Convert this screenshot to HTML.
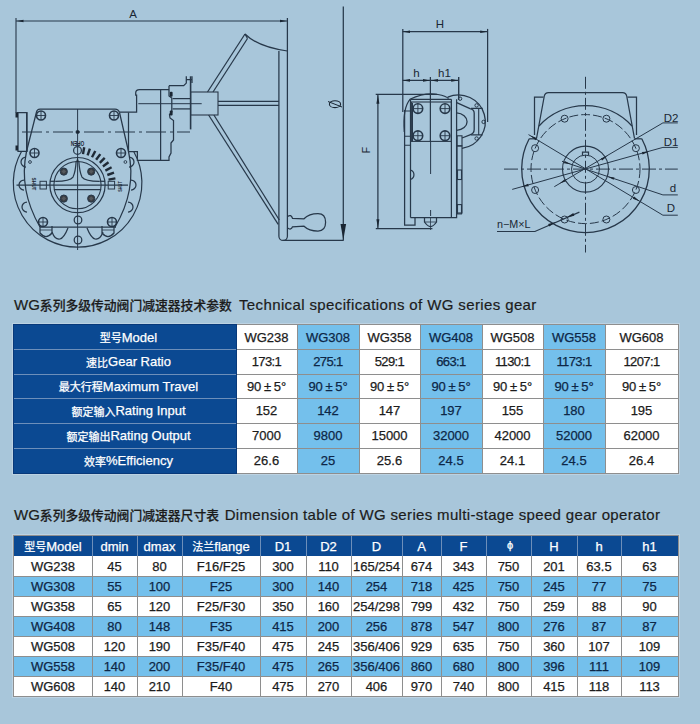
<!DOCTYPE html>
<html><head><meta charset="utf-8"><title>WG</title>
<style>
html,body{margin:0;padding:0;}
body{width:700px;height:724px;background:#a8c6da;position:relative;overflow:hidden;font-family:"Liberation Sans","Noto Sans CJK SC",sans-serif;}
.c{font-family:"Noto Sans CJK SC","WenQuanYi Zen Hei",sans-serif;}
.title{position:absolute;left:14px;white-space:nowrap;color:#1c1c1c;font-size:15px;line-height:18px;-webkit-text-stroke:0.2px currentColor;}
.title .c{font-size:12.8px;font-weight:500;}
.title .e{letter-spacing:0.38px;}
.cell{position:absolute;box-sizing:border-box;display:flex;align-items:center;justify-content:center;font-size:13px;white-space:nowrap;color:#1c1c1c;-webkit-text-stroke:0.25px currentColor;}
.cell .c{font-size:11px;}
.hd{background:#0b4992;color:#fff;}
.t1h{padding-left:7px;}
.rt{letter-spacing:-0.6px;}
.wh{background:#fff;}
.lb{background:#74c0ec;color:#0d2747;}
.hl{position:absolute;height:1px;background:#8e8e8e;}
.hl2{position:absolute;height:1px;background:#6d8fba;}
.vl{position:absolute;width:1px;background:#8e8e8e;}
.vl2{position:absolute;width:1px;background:#6d8fba;}
.frame{position:absolute;border:1px solid #8e8e8e;box-shadow:0 0 0 1px #bcd2e2;}
.dframe{position:absolute;border:1px solid #08397a;}
svg{position:absolute;left:0;top:0;}
</style></head><body>
<svg width="700" height="285" viewBox="0 0 700 285"><line x1="16" y1="21" x2="287.4" y2="21" stroke="#27384a" stroke-width="1.1"/><polygon points="16.5,21.0 23.5,19.7 23.5,22.3" fill="#1a2633"/><polygon points="287.0,21.0 280.0,22.3 280.0,19.7" fill="#1a2633"/><line x1="16" y1="18" x2="16" y2="113" stroke="#27384a" stroke-width="1.1"/><text x="133" y="17.5" font-size="11.5" text-anchor="middle" fill="#1a2633" font-family="Liberation Sans, sans-serif">A</text><path d="M16.5,112.6 H27 V151.4 H18 V112.6" stroke="#27384a" stroke-width="1.25" fill="none"/><line x1="26.6" y1="112.6" x2="26.6" y2="151.4" stroke="#27384a" stroke-width="1.25"/><rect x="15.5" y="112.5" width="2.5" height="5" fill="#1a2633"/><rect x="15.5" y="145.5" width="2.5" height="5" fill="#1a2633"/><path d="M36.5,112 Q37,109 40,109 H115 Q118.5,109 119.5,112.5" stroke="#27384a" stroke-width="1.25" fill="none"/><path d="M36.5,112 L26.5,151.5 Q18.5,190 40,227" stroke="#27384a" stroke-width="1.25" fill="none"/><path d="M119.5,112.5 L128.5,151.5 Q137,190 115,227" stroke="#27384a" stroke-width="1.25" fill="none"/><path d="M21.5,151.5 A64.3,64.3 0 1 0 133.7,151.5" stroke="#27384a" stroke-width="1.2" fill="none"/><line x1="128.5" y1="112.5" x2="128.5" y2="151.5" stroke="#27384a" stroke-width="1.25"/><circle cx="41" cy="115.5" r="4.5" stroke="#27384a" stroke-width="1.6" fill="none"/><line x1="36.5" y1="115.5" x2="45.5" y2="115.5" stroke="#27384a" stroke-width="0.9"/><line x1="41" y1="111.0" x2="41" y2="120.0" stroke="#27384a" stroke-width="0.9"/><circle cx="114" cy="115.5" r="4.5" stroke="#27384a" stroke-width="1.6" fill="none"/><line x1="109.5" y1="115.5" x2="118.5" y2="115.5" stroke="#27384a" stroke-width="0.9"/><line x1="114" y1="111.0" x2="114" y2="120.0" stroke="#27384a" stroke-width="0.9"/><circle cx="34.5" cy="153" r="4.5" stroke="#27384a" stroke-width="1.6" fill="none"/><line x1="30.0" y1="153" x2="39.0" y2="153" stroke="#27384a" stroke-width="0.9"/><line x1="34.5" y1="148.5" x2="34.5" y2="157.5" stroke="#27384a" stroke-width="0.9"/><circle cx="121" cy="153" r="4.5" stroke="#27384a" stroke-width="1.6" fill="none"/><line x1="116.5" y1="153" x2="125.5" y2="153" stroke="#27384a" stroke-width="0.9"/><line x1="121" y1="148.5" x2="121" y2="157.5" stroke="#27384a" stroke-width="0.9"/><circle cx="43" cy="222" r="4.5" stroke="#27384a" stroke-width="1.6" fill="none"/><line x1="38.5" y1="222" x2="47.5" y2="222" stroke="#27384a" stroke-width="0.9"/><line x1="43" y1="217.5" x2="43" y2="226.5" stroke="#27384a" stroke-width="0.9"/><circle cx="112" cy="222" r="4.5" stroke="#27384a" stroke-width="1.6" fill="none"/><line x1="107.5" y1="222" x2="116.5" y2="222" stroke="#27384a" stroke-width="0.9"/><line x1="112" y1="217.5" x2="112" y2="226.5" stroke="#27384a" stroke-width="0.9"/><circle cx="30" cy="162" r="1.4" stroke="#27384a" stroke-width="0.9" fill="none"/><circle cx="125.4" cy="162" r="1.4" stroke="#27384a" stroke-width="0.9" fill="none"/><path d="M26,157 A5,5 0 0 0 26,167" stroke="#27384a" stroke-width="1.25" fill="none"/><path d="M24,180 A5,5 0 0 0 24,190" stroke="#27384a" stroke-width="1.25" fill="none"/><path d="M27,202 A5,5 0 0 0 27,212" stroke="#27384a" stroke-width="1.25" fill="none"/><path d="M129,157 A5,5 0 0 1 129,167" stroke="#27384a" stroke-width="1.25" fill="none"/><path d="M131,180 A5,5 0 0 1 131,190" stroke="#27384a" stroke-width="1.25" fill="none"/><path d="M128,202 A5,5 0 0 1 128,212" stroke="#27384a" stroke-width="1.25" fill="none"/><line x1="77.6" y1="109" x2="77.6" y2="250" stroke="#27384a" stroke-width="1.0"/><line x1="22" y1="132" x2="190" y2="132" stroke="#27384a" stroke-width="1.2" stroke-dasharray="20,4,3,4"/><circle cx="77.6" cy="132" r="1.8" stroke="#27384a" stroke-width="0.5" fill="#1a2633"/><text x="77.5" y="142.4" font-size="6.6" text-anchor="middle" fill="#1a2633" font-family="Liberation Sans, sans-serif" transform="rotate(180 77.5 142.4)" dominant-baseline="middle" font-weight="bold" textLength="13.5" lengthAdjust="spacingAndGlyphs">OPEN</text><circle cx="77.5" cy="150.4" r="3.9" stroke="#27384a" stroke-width="1.25" fill="none"/><line x1="83.0" y1="154.1" x2="84.2" y2="147.2" stroke="#1f2a36" stroke-width="2.4"/><line x1="87.6" y1="155.3" x2="89.9" y2="148.6" stroke="#1f2a36" stroke-width="2.4"/><line x1="92.0" y1="157.2" x2="95.3" y2="151.0" stroke="#1f2a36" stroke-width="2.4"/><line x1="96.1" y1="159.7" x2="100.3" y2="154.1" stroke="#1f2a36" stroke-width="2.4"/><line x1="99.8" y1="162.8" x2="104.7" y2="157.9" stroke="#1f2a36" stroke-width="2.4"/><line x1="102.9" y1="166.5" x2="108.5" y2="162.3" stroke="#1f2a36" stroke-width="2.4"/><line x1="105.4" y1="170.6" x2="111.6" y2="167.3" stroke="#1f2a36" stroke-width="2.4"/><line x1="107.3" y1="175.0" x2="114.0" y2="172.7" stroke="#1f2a36" stroke-width="2.4"/><line x1="108.5" y1="179.6" x2="115.4" y2="178.4" stroke="#1f2a36" stroke-width="2.4"/><circle cx="77.5" cy="185.1" r="27.6" stroke="#27384a" stroke-width="1.2" fill="none"/><circle cx="77.5" cy="185.1" r="23.6" stroke="#27384a" stroke-width="1.1" fill="none"/><circle cx="63.8" cy="171.6" r="3.6" stroke="#27384a" stroke-width="1.0" fill="#3a3d42"/><rect x="62.199999999999996" y="170.0" width="3.2" height="3.2" fill="#55595e" transform="rotate(45 63.8 171.6)"/><circle cx="91.2" cy="171.6" r="3.6" stroke="#27384a" stroke-width="1.0" fill="#3a3d42"/><rect x="89.60000000000001" y="170.0" width="3.2" height="3.2" fill="#55595e" transform="rotate(45 91.2 171.6)"/><circle cx="63.8" cy="198.6" r="3.6" stroke="#27384a" stroke-width="1.0" fill="#3a3d42"/><rect x="62.199999999999996" y="197.0" width="3.2" height="3.2" fill="#55595e" transform="rotate(45 63.8 198.6)"/><circle cx="91.2" cy="198.6" r="3.6" stroke="#27384a" stroke-width="1.0" fill="#3a3d42"/><rect x="89.60000000000001" y="197.0" width="3.2" height="3.2" fill="#55595e" transform="rotate(45 91.2 198.6)"/><polygon points="77.5,157.5 76,162 79,162" fill="#1f2a36"/><path d="M76.2,161 Q75.5,172 73,177 Q70,181 55.4,181.3" stroke="#27384a" stroke-width="1.25" fill="none"/><path d="M78.8,161 Q79.5,172 82,177 Q85,181 99.6,181.3" stroke="#27384a" stroke-width="1.25" fill="none"/><line x1="49.9" y1="181.3" x2="55.4" y2="181.3" stroke="#27384a" stroke-width="1.25"/><line x1="99.6" y1="181.3" x2="105.1" y2="181.3" stroke="#27384a" stroke-width="1.25"/><line x1="53.9" y1="189.6" x2="101.1" y2="189.6" stroke="#27384a" stroke-width="1.25"/><line x1="16.5" y1="185.1" x2="128" y2="185.1" stroke="#27384a" stroke-width="1.1"/><rect x="40" y="181.3" width="6.4" height="7.7" fill="none" stroke="#2a3a4b" stroke-width="1"/><rect x="108.2" y="181.3" width="6.4" height="7.7" fill="none" stroke="#2a3a4b" stroke-width="1"/><text x="33.6" y="184" font-size="6.2" text-anchor="middle" fill="#1a2633" font-family="Liberation Sans, sans-serif" transform="rotate(90 33.6 184)" dominant-baseline="middle" font-weight="bold" textLength="13" lengthAdjust="spacingAndGlyphs">SHUT</text><text x="120.4" y="186.5" font-size="6.2" text-anchor="middle" fill="#1a2633" font-family="Liberation Sans, sans-serif" transform="rotate(-90 120.4 186.5)" dominant-baseline="middle" font-weight="bold" textLength="10.5" lengthAdjust="spacingAndGlyphs">SHUT</text><circle cx="78" cy="220" r="3.8" stroke="#27384a" stroke-width="1.25" fill="none"/><circle cx="78" cy="240" r="3.8" stroke="#27384a" stroke-width="1.25" fill="none"/><line x1="40" y1="227" x2="116" y2="227" stroke="#27384a" stroke-width="1.25"/><path d="M40,226 V233 Q46,240 52,233 V226" stroke="#27384a" stroke-width="1.25" fill="none"/><line x1="40" y1="230" x2="52" y2="230" stroke="#27384a" stroke-width="0.8"/><path d="M102,226 V233 Q108,240 114,233 V226" stroke="#27384a" stroke-width="1.25" fill="none"/><line x1="102" y1="230" x2="114" y2="230" stroke="#27384a" stroke-width="0.8"/><path d="M52,232 Q55,240 60,239 Q64,238 68,228" stroke="#27384a" stroke-width="1.25" fill="none"/><path d="M103,232 Q100,240 95,239 Q91,238 87,228" stroke="#27384a" stroke-width="1.25" fill="none"/><path d="M119.4,112.2 H136.6 V95 H135.7 V93 Q135.7,89.5 139.5,89.5 H169" stroke="#27384a" stroke-width="1.25" fill="none"/><path d="M169,85.7 V89.5 V96 L171.8,98 V112 L169.5,114.5 L170,118 L173.5,120.5 V140 L171,143 V153 L169,157 V160.3 H137.4 V151.7 H128.5" stroke="#27384a" stroke-width="1.25" fill="none"/><line x1="160.6" y1="89.5" x2="160.6" y2="160.3" stroke="#27384a" stroke-width="1.25"/><line x1="138.3" y1="103.7" x2="201.7" y2="103.7" stroke="#27384a" stroke-width="1.0"/><rect x="169.8" y="91.7" width="2.8" height="5" rx="1" fill="#1a2633"/><rect x="169.8" y="110.6" width="2.8" height="5" rx="1" fill="#1a2633"/><path d="M169,85.7 H183.7 L186.3,83.1 V76.3 M186.3,79.7 H192 M192,76.3 V83.1" stroke="#27384a" stroke-width="1.25" fill="none"/><line x1="190.6" y1="76.3" x2="190.6" y2="129.4" stroke="#27384a" stroke-width="1.6"/><line x1="172.6" y1="98.6" x2="190.6" y2="98.6" stroke="#27384a" stroke-width="1.25"/><line x1="172.6" y1="108.9" x2="190.6" y2="108.9" stroke="#27384a" stroke-width="1.25"/><rect x="190.6" y="92" width="27.4" height="23" fill="none" stroke="#2a3a4b" stroke-width="1.1"/><line x1="218" y1="101.4" x2="278.9" y2="101.4" stroke="#27384a" stroke-width="1.25"/><line x1="218" y1="105.3" x2="278.9" y2="105.3" stroke="#27384a" stroke-width="1.25"/><line x1="207.5" y1="92" x2="245" y2="34" stroke="#27384a" stroke-width="1.25"/><line x1="213" y1="92" x2="247.5" y2="38.5" stroke="#27384a" stroke-width="1.25"/><path d="M245,34 Q258,47 287.4,51" stroke="#27384a" stroke-width="1.25" fill="none"/><line x1="245" y1="34" x2="247.5" y2="38.5" stroke="#27384a" stroke-width="1.25"/><line x1="208.6" y1="115" x2="278.2" y2="224.3" stroke="#27384a" stroke-width="1.25"/><line x1="213.9" y1="115" x2="279.3" y2="220" stroke="#27384a" stroke-width="1.25"/><path d="M278.9,51 V236.2 A4.25,4.25 0 0 0 287.4,236.2 V18" stroke="#27384a" stroke-width="1.25" fill="none"/><path d="M287.6,216.5 Q291,214 292.5,218.3 L304,218.8 Q309,213.6 318,213.6 Q325.6,213.6 325.6,222.3 Q325.6,231 318,231 Q309,231 304,226.2 L292.5,226.8 Q291,230.5 287.6,228" stroke="#27384a" stroke-width="1.25" fill="none"/><line x1="283.6" y1="240.4" x2="343.6" y2="240.4" stroke="#27384a" stroke-width="1.25"/><line x1="343.3" y1="6.4" x2="343.3" y2="240.4" stroke="#27384a" stroke-width="1.25"/><polygon points="343.3,240.0 340.5,224.0 346.1,224.0" fill="#1a2633"/><ellipse cx="335" cy="104.2" rx="5.6" ry="3.4" fill="none" stroke="#1a2633" stroke-width="1.1"/><line x1="328" y1="101.5" x2="342" y2="107" stroke="#1a2633" stroke-width="1.0"/><line x1="402.5" y1="31.7" x2="487.6" y2="31.7" stroke="#27384a" stroke-width="1.25"/><polygon points="403.0,31.7 410.0,30.4 410.0,33.0" fill="#1a2633"/><polygon points="487.2,31.7 480.2,33.0 480.2,30.4" fill="#1a2633"/><text x="440" y="28" font-size="11.5" text-anchor="middle" fill="#1a2633" font-family="Liberation Sans, sans-serif">H</text><line x1="402.8" y1="28.9" x2="402.8" y2="112" stroke="#27384a" stroke-width="1.25"/><line x1="487.6" y1="28.9" x2="487.6" y2="122" stroke="#27384a" stroke-width="1.25"/><line x1="402.5" y1="80.4" x2="458.6" y2="80.4" stroke="#27384a" stroke-width="1.25"/><polygon points="403.0,80.4 410.0,79.1 410.0,81.7" fill="#1a2633"/><polygon points="430.0,80.4 423.0,81.7 423.0,79.1" fill="#1a2633"/><polygon points="431.0,80.4 438.0,79.1 438.0,81.7" fill="#1a2633"/><polygon points="458.2,80.4 451.2,81.7 451.2,79.1" fill="#1a2633"/><text x="416.5" y="76.5" font-size="11.5" text-anchor="middle" fill="#1a2633" font-family="Liberation Sans, sans-serif">h</text><text x="444.5" y="76.5" font-size="11.5" text-anchor="middle" fill="#1a2633" font-family="Liberation Sans, sans-serif">h1</text><line x1="430.4" y1="77" x2="430.4" y2="141.4" stroke="#27384a" stroke-width="1.25"/><line x1="458.6" y1="77" x2="458.6" y2="100" stroke="#27384a" stroke-width="1.25"/><line x1="375.7" y1="94.3" x2="437" y2="94.3" stroke="#27384a" stroke-width="1.25"/><line x1="377.9" y1="94.3" x2="377.9" y2="228.7" stroke="#27384a" stroke-width="1.25"/><polygon points="377.9,94.8 379.4,103.8 376.4,103.8" fill="#1a2633"/><polygon points="377.9,228.2 376.4,219.2 379.4,219.2" fill="#1a2633"/><text x="369.5" y="150" font-size="10.5" text-anchor="middle" fill="#1a2633" font-family="Liberation Sans, sans-serif" transform="rotate(-90 369.5 150)">F</text><line x1="375.8" y1="228.7" x2="432.4" y2="228.7" stroke="#27384a" stroke-width="1.25"/><path d="M404.3,132 Q402.5,108 410,99.3 Q425,92 438,94.5 Q446,96 448.6,98.5" stroke="#27384a" stroke-width="1.25" fill="none"/><path d="M404.6,110 V225 H415 V217.6" stroke="#27384a" stroke-width="1.25" fill="none"/><line x1="410.5" y1="99.3" x2="410.5" y2="217.6" stroke="#27384a" stroke-width="1.25"/><path d="M404.6,111 H410.5 M404.6,136.3 H410.5 M404.6,145.2 H410.5" stroke="#27384a" stroke-width="1.1" fill="none"/><line x1="412.4" y1="102.9" x2="412.4" y2="141.4" stroke="#27384a" stroke-width="1.25"/><path d="M410.5,217.6 H456.6 V99.3" stroke="#27384a" stroke-width="1.25" fill="none"/><rect x="411.4" y="102" width="40" height="39.4" fill="none" stroke="#2a3a4b" stroke-width="1.1"/><line x1="410.5" y1="99.3" x2="451.4" y2="99.3" stroke="#27384a" stroke-width="1.25"/><circle cx="417.9" cy="108.6" r="4.8" stroke="#27384a" stroke-width="1.6" fill="none"/><line x1="413.09999999999997" y1="108.6" x2="422.7" y2="108.6" stroke="#27384a" stroke-width="0.9"/><line x1="417.9" y1="103.8" x2="417.9" y2="113.39999999999999" stroke="#27384a" stroke-width="0.9"/><circle cx="445" cy="108.6" r="4.8" stroke="#27384a" stroke-width="1.6" fill="none"/><line x1="440.2" y1="108.6" x2="449.8" y2="108.6" stroke="#27384a" stroke-width="0.9"/><line x1="445" y1="103.8" x2="445" y2="113.39999999999999" stroke="#27384a" stroke-width="0.9"/><circle cx="417.9" cy="135.7" r="4.8" stroke="#27384a" stroke-width="1.6" fill="none"/><line x1="413.09999999999997" y1="135.7" x2="422.7" y2="135.7" stroke="#27384a" stroke-width="0.9"/><line x1="417.9" y1="130.89999999999998" x2="417.9" y2="140.5" stroke="#27384a" stroke-width="0.9"/><circle cx="445" cy="135.7" r="4.8" stroke="#27384a" stroke-width="1.6" fill="none"/><line x1="440.2" y1="135.7" x2="449.8" y2="135.7" stroke="#27384a" stroke-width="0.9"/><line x1="445" y1="130.89999999999998" x2="445" y2="140.5" stroke="#27384a" stroke-width="0.9"/><line x1="451.4" y1="99.3" x2="451.4" y2="217.6" stroke="#27384a" stroke-width="1.25"/><path d="M410.5,170 A5,5 0 0 1 410.5,179.5" stroke="#27384a" stroke-width="1.25" fill="none"/><line x1="430.6" y1="141" x2="430.6" y2="174" stroke="#27384a" stroke-width="1.0"/><line x1="430.6" y1="210" x2="430.6" y2="216" stroke="#27384a" stroke-width="1.0"/><path d="M424.5,217.6 V222 Q430.5,231 436.5,222 V217.6" stroke="#27384a" stroke-width="1.25" fill="none"/><line x1="424.5" y1="222" x2="436.5" y2="222" stroke="#27384a" stroke-width="0.8"/><line x1="430.5" y1="217.6" x2="430.5" y2="230" stroke="#27384a" stroke-width="0.8"/><rect x="457" y="146" width="5" height="67" fill="none" stroke="#27384a" stroke-width="1.1"/><rect x="457.5" y="170" width="4" height="9.5" fill="none" stroke="#27384a" stroke-width="1.1"/><rect x="457.5" y="204.6" width="4" height="9.3" fill="none" stroke="#27384a" stroke-width="1.1"/><path d="M447.7,97.2 A26.8,26.8 0 1 1 462,148.3" stroke="#27384a" stroke-width="1.3" fill="none"/><circle cx="460.1" cy="98.7" r="1.7" stroke="#27384a" stroke-width="1.0" fill="none"/><circle cx="476.6" cy="105.4" r="1.7" stroke="#27384a" stroke-width="1.0" fill="none"/><circle cx="483.6" cy="121.9" r="1.7" stroke="#27384a" stroke-width="1.0" fill="none"/><circle cx="476.6" cy="138.5" r="1.7" stroke="#27384a" stroke-width="1.0" fill="none"/><path d="M456.7,112.9 A11.6,8.8 0 0 1 456.7,130.4" stroke="#27384a" stroke-width="1.3" fill="none"/><path d="M456.7,102.6 L470,108.6 Q474.2,109.5 474.2,113 V129.5 Q474.2,133.5 470,134.9 L462,138" stroke="#27384a" stroke-width="1.3" fill="none"/><path d="M471,108.4 H482.7 M478.7,108.4 V134.9 M471,134.9 H482.7" stroke="#27384a" stroke-width="1.1" fill="none"/><rect x="457.1" y="135.8" width="4.9" height="10" fill="none" stroke="#27384a" stroke-width="1.1"/><line x1="458.6" y1="77" x2="458.6" y2="99.5" stroke="#27384a" stroke-width="1.25"/><line x1="585.5" y1="76.8" x2="585.5" y2="252.5" stroke="#27384a" stroke-width="1.0" stroke-dasharray="12,3,3,3"/><line x1="504" y1="169.1" x2="677.8" y2="169.1" stroke="#27384a" stroke-width="1.0" stroke-dasharray="14,3,3,3"/><path d="M641.8,138.8 A63.8,63.8 0 1 1 529.2,138.8" stroke="#27384a" stroke-width="1.3" fill="none"/><path d="M539,126 A63.4,63.4 0 0 1 632,126" stroke="#27384a" stroke-width="1.3" fill="none"/><path d="M536.5,138.5 L544.3,96 Q545,92.5 548.5,92.5 H622.5 Q626,92.5 626.7,96 L634.5,138.5" stroke="#27384a" stroke-width="1.25" fill="none"/><path d="M543.5,97.2 H534.5 V135" stroke="#27384a" stroke-width="1.25" fill="none"/><path d="M627.5,97.2 H636.5 V135" stroke="#27384a" stroke-width="1.25" fill="none"/><line x1="529.2" y1="138.8" x2="536.5" y2="138.8" stroke="#27384a" stroke-width="1.25"/><line x1="634.5" y1="138.8" x2="641.8" y2="138.8" stroke="#27384a" stroke-width="1.25"/><circle cx="585.5" cy="169.1" r="54.5" stroke="#27384a" stroke-width="1.0" fill="none" stroke-dasharray="9,3"/><circle cx="635.9" cy="190.0" r="3.5" stroke="#27384a" stroke-width="1.0" fill="none"/><circle cx="606.4" cy="219.5" r="3.5" stroke="#27384a" stroke-width="1.0" fill="none"/><circle cx="564.6" cy="219.5" r="3.5" stroke="#27384a" stroke-width="1.0" fill="none"/><circle cx="535.1" cy="190.0" r="3.5" stroke="#27384a" stroke-width="1.0" fill="none"/><circle cx="535.1" cy="148.2" r="3.5" stroke="#27384a" stroke-width="1.0" fill="none"/><circle cx="564.6" cy="118.7" r="3.5" stroke="#27384a" stroke-width="1.0" fill="none"/><circle cx="606.4" cy="118.7" r="3.5" stroke="#27384a" stroke-width="1.0" fill="none"/><circle cx="635.9" cy="148.2" r="3.5" stroke="#27384a" stroke-width="1.0" fill="none"/><circle cx="585.5" cy="169.1" r="23" stroke="#27384a" stroke-width="1.1" fill="none"/><circle cx="585.5" cy="169.1" r="14" stroke="#27384a" stroke-width="1.0" fill="none"/><path d="M582.5,155.3 V152 H588.5 V155.3" stroke="#27384a" stroke-width="1.25" fill="none"/><line x1="554.3" y1="186.7" x2="662.9" y2="122.9" stroke="#27384a" stroke-width="1.0"/><line x1="662.9" y1="122.9" x2="677.8" y2="122.9" stroke="#27384a" stroke-width="1.0"/><line x1="512.2" y1="189.4" x2="662.9" y2="147.4" stroke="#27384a" stroke-width="1.0"/><line x1="662.9" y1="147.4" x2="677.8" y2="147.4" stroke="#27384a" stroke-width="1.0"/><line x1="562" y1="161.3" x2="662.9" y2="194.9" stroke="#27384a" stroke-width="1.0"/><line x1="662.9" y1="194.9" x2="677.8" y2="194.9" stroke="#27384a" stroke-width="1.0"/><line x1="528.5" y1="134.6" x2="662.9" y2="215.2" stroke="#27384a" stroke-width="1.0"/><line x1="662.9" y1="215.2" x2="677.8" y2="215.2" stroke="#27384a" stroke-width="1.0"/><polygon points="530.2,135.6 536.9,138.1 535.5,140.3" fill="#1a2633"/><polygon points="559.5,183.6 565.0,179.1 566.2,181.3" fill="#1a2633"/><polygon points="607.5,156.0 602.1,160.6 600.8,158.4" fill="#1a2633"/><polygon points="521.7,186.8 528.1,183.7 528.8,186.2" fill="#1a2633"/><polygon points="649.0,151.4 642.6,154.5 641.9,151.9" fill="#1a2633"/><polygon points="571.0,164.3 563.9,163.3 564.8,160.9" fill="#1a2633"/><polygon points="607.4,176.4 614.5,177.4 613.6,179.8" fill="#1a2633"/><polygon points="639.5,201.3 632.8,198.8 634.2,196.6" fill="#1a2633"/><text x="671" y="121.5" font-size="11.5" text-anchor="middle" fill="#1a2633" font-family="Liberation Sans, sans-serif">D2</text><text x="671" y="146" font-size="11.5" text-anchor="middle" fill="#1a2633" font-family="Liberation Sans, sans-serif">D1</text><text x="673" y="191.5" font-size="11.5" text-anchor="middle" fill="#1a2633" font-family="Liberation Sans, sans-serif">d</text><text x="671" y="212" font-size="11.5" text-anchor="middle" fill="#1a2633" font-family="Liberation Sans, sans-serif">D</text><path d="M497,231.5 H534.9 L579.4,212.1" stroke="#27384a" stroke-width="1.2" fill="none"/><polygon points="556.0,222.0 549.2,226.5 548.1,223.9" fill="#1a2633"/><polygon points="566.5,217.6 573.3,213.1 574.4,215.7" fill="#1a2633"/><text x="497" y="228.4" font-size="10.5" text-anchor="start" fill="#1a2633" font-family="Liberation Sans, sans-serif" textLength="33.5" lengthAdjust="spacingAndGlyphs">n−M×L</text></svg>
<div class="title" style="top:296px">WG<span class="c">系列多级传动阀门减速器技术参数</span> <span class="e" style="margin-left:3px">Technical specifications of WG series gear</span></div>
<div class="cell hd t1h" style="left:14px;top:325px;width:222px;height:24px"><span class="c">型号</span>Model</div><div class="cell wh" style="left:236px;top:325px;width:61px;height:24px">WG238</div><div class="cell lb" style="left:297px;top:325px;width:62px;height:24px">WG308</div><div class="cell wh" style="left:359px;top:325px;width:61px;height:24px">WG358</div><div class="cell lb" style="left:420px;top:325px;width:62px;height:24px">WG408</div><div class="cell wh" style="left:482px;top:325px;width:61px;height:24px">WG508</div><div class="cell lb" style="left:543px;top:325px;width:62px;height:24px">WG558</div><div class="cell wh" style="left:605px;top:325px;width:73px;height:24px">WG608</div><div class="cell hd t1h" style="left:14px;top:349px;width:222px;height:25px"><span class="c">速比</span>Gear Ratio</div><div class="cell wh rt" style="left:236px;top:349px;width:61px;height:25px">173:1</div><div class="cell lb rt" style="left:297px;top:349px;width:62px;height:25px">275:1</div><div class="cell wh rt" style="left:359px;top:349px;width:61px;height:25px">529:1</div><div class="cell lb rt" style="left:420px;top:349px;width:62px;height:25px">663:1</div><div class="cell wh rt" style="left:482px;top:349px;width:61px;height:25px">1130:1</div><div class="cell lb rt" style="left:543px;top:349px;width:62px;height:25px">1173:1</div><div class="cell wh rt" style="left:605px;top:349px;width:73px;height:25px">1207:1</div><div class="cell hd t1h" style="left:14px;top:374px;width:222px;height:24.5px"><span class="c">最大行程</span>Maximum Travel</div><div class="cell wh" style="left:236px;top:374px;width:61px;height:24.5px">90&#8201;±&#8201;5°</div><div class="cell lb" style="left:297px;top:374px;width:62px;height:24.5px">90&#8201;±&#8201;5°</div><div class="cell wh" style="left:359px;top:374px;width:61px;height:24.5px">90&#8201;±&#8201;5°</div><div class="cell lb" style="left:420px;top:374px;width:62px;height:24.5px">90&#8201;±&#8201;5°</div><div class="cell wh" style="left:482px;top:374px;width:61px;height:24.5px">90&#8201;±&#8201;5°</div><div class="cell lb" style="left:543px;top:374px;width:62px;height:24.5px">90&#8201;±&#8201;5°</div><div class="cell wh" style="left:605px;top:374px;width:73px;height:24.5px">90&#8201;±&#8201;5°</div><div class="cell hd t1h" style="left:14px;top:398.5px;width:222px;height:24.5px"><span class="c">额定输入</span>Rating Input</div><div class="cell wh" style="left:236px;top:398.5px;width:61px;height:24.5px">152</div><div class="cell lb" style="left:297px;top:398.5px;width:62px;height:24.5px">142</div><div class="cell wh" style="left:359px;top:398.5px;width:61px;height:24.5px">147</div><div class="cell lb" style="left:420px;top:398.5px;width:62px;height:24.5px">197</div><div class="cell wh" style="left:482px;top:398.5px;width:61px;height:24.5px">155</div><div class="cell lb" style="left:543px;top:398.5px;width:62px;height:24.5px">180</div><div class="cell wh" style="left:605px;top:398.5px;width:73px;height:24.5px">195</div><div class="cell hd t1h" style="left:14px;top:423px;width:222px;height:25px"><span class="c">额定输出</span>Rating Output</div><div class="cell wh" style="left:236px;top:423px;width:61px;height:25px">7000</div><div class="cell lb" style="left:297px;top:423px;width:62px;height:25px">9800</div><div class="cell wh" style="left:359px;top:423px;width:61px;height:25px">15000</div><div class="cell lb" style="left:420px;top:423px;width:62px;height:25px">32000</div><div class="cell wh" style="left:482px;top:423px;width:61px;height:25px">42000</div><div class="cell lb" style="left:543px;top:423px;width:62px;height:25px">52000</div><div class="cell wh" style="left:605px;top:423px;width:73px;height:25px">62000</div><div class="cell hd t1h" style="left:14px;top:448px;width:222px;height:25px"><span class="c">效率</span>%Efficiency</div><div class="cell wh" style="left:236px;top:448px;width:61px;height:25px">26.6</div><div class="cell lb" style="left:297px;top:448px;width:62px;height:25px">25</div><div class="cell wh" style="left:359px;top:448px;width:61px;height:25px">25.6</div><div class="cell lb" style="left:420px;top:448px;width:62px;height:25px">24.5</div><div class="cell wh" style="left:482px;top:448px;width:61px;height:25px">24.1</div><div class="cell lb" style="left:543px;top:448px;width:62px;height:25px">24.5</div><div class="cell wh" style="left:605px;top:448px;width:73px;height:25px">26.4</div><div class="cell hd" style="left:14px;top:536px;width:78px;height:20px"><span class="c">型号</span>Model</div><div class="cell hd" style="left:92px;top:536px;width:45px;height:20px">dmin</div><div class="cell hd" style="left:137px;top:536px;width:45px;height:20px">dmax</div><div class="cell hd" style="left:182px;top:536px;width:78px;height:20px"><span class="c">法兰</span>flange</div><div class="cell hd" style="left:260px;top:536px;width:46px;height:20px">D1</div><div class="cell hd" style="left:306px;top:536px;width:45px;height:20px">D2</div><div class="cell hd" style="left:351px;top:536px;width:51px;height:20px">D</div><div class="cell hd" style="left:402px;top:536px;width:39px;height:20px">A</div><div class="cell hd" style="left:441px;top:536px;width:45px;height:20px">F</div><div class="cell hd" style="left:486px;top:536px;width:45px;height:20px"><span style="font-size:11px;position:relative;top:-1px;left:1.5px">ϕ</span></div><div class="cell hd" style="left:531px;top:536px;width:46px;height:20px">H</div><div class="cell hd" style="left:577px;top:536px;width:44px;height:20px">h</div><div class="cell hd" style="left:621px;top:536px;width:57px;height:20px">h1</div><div class="cell wh" style="left:14px;top:556px;width:78px;height:20px">WG238</div><div class="cell wh" style="left:92px;top:556px;width:45px;height:20px">45</div><div class="cell wh" style="left:137px;top:556px;width:45px;height:20px">80</div><div class="cell wh" style="left:182px;top:556px;width:78px;height:20px">F16/F25</div><div class="cell wh" style="left:260px;top:556px;width:46px;height:20px">300</div><div class="cell wh" style="left:306px;top:556px;width:45px;height:20px">110</div><div class="cell wh" style="left:351px;top:556px;width:51px;height:20px">165/254</div><div class="cell wh" style="left:402px;top:556px;width:39px;height:20px">674</div><div class="cell wh" style="left:441px;top:556px;width:45px;height:20px">343</div><div class="cell wh" style="left:486px;top:556px;width:45px;height:20px">750</div><div class="cell wh" style="left:531px;top:556px;width:46px;height:20px">201</div><div class="cell wh" style="left:577px;top:556px;width:44px;height:20px">63.5</div><div class="cell wh" style="left:621px;top:556px;width:57px;height:20px">63</div><div class="cell lb" style="left:14px;top:576px;width:78px;height:20px">WG308</div><div class="cell lb" style="left:92px;top:576px;width:45px;height:20px">55</div><div class="cell lb" style="left:137px;top:576px;width:45px;height:20px">100</div><div class="cell lb" style="left:182px;top:576px;width:78px;height:20px">F25</div><div class="cell lb" style="left:260px;top:576px;width:46px;height:20px">300</div><div class="cell lb" style="left:306px;top:576px;width:45px;height:20px">140</div><div class="cell lb" style="left:351px;top:576px;width:51px;height:20px">254</div><div class="cell lb" style="left:402px;top:576px;width:39px;height:20px">718</div><div class="cell lb" style="left:441px;top:576px;width:45px;height:20px">425</div><div class="cell lb" style="left:486px;top:576px;width:45px;height:20px">750</div><div class="cell lb" style="left:531px;top:576px;width:46px;height:20px">245</div><div class="cell lb" style="left:577px;top:576px;width:44px;height:20px">77</div><div class="cell lb" style="left:621px;top:576px;width:57px;height:20px">75</div><div class="cell wh" style="left:14px;top:596px;width:78px;height:20px">WG358</div><div class="cell wh" style="left:92px;top:596px;width:45px;height:20px">65</div><div class="cell wh" style="left:137px;top:596px;width:45px;height:20px">120</div><div class="cell wh" style="left:182px;top:596px;width:78px;height:20px">F25/F30</div><div class="cell wh" style="left:260px;top:596px;width:46px;height:20px">350</div><div class="cell wh" style="left:306px;top:596px;width:45px;height:20px">160</div><div class="cell wh" style="left:351px;top:596px;width:51px;height:20px">254/298</div><div class="cell wh" style="left:402px;top:596px;width:39px;height:20px">799</div><div class="cell wh" style="left:441px;top:596px;width:45px;height:20px">432</div><div class="cell wh" style="left:486px;top:596px;width:45px;height:20px">750</div><div class="cell wh" style="left:531px;top:596px;width:46px;height:20px">259</div><div class="cell wh" style="left:577px;top:596px;width:44px;height:20px">88</div><div class="cell wh" style="left:621px;top:596px;width:57px;height:20px">90</div><div class="cell lb" style="left:14px;top:616px;width:78px;height:20px">WG408</div><div class="cell lb" style="left:92px;top:616px;width:45px;height:20px">80</div><div class="cell lb" style="left:137px;top:616px;width:45px;height:20px">148</div><div class="cell lb" style="left:182px;top:616px;width:78px;height:20px">F35</div><div class="cell lb" style="left:260px;top:616px;width:46px;height:20px">415</div><div class="cell lb" style="left:306px;top:616px;width:45px;height:20px">200</div><div class="cell lb" style="left:351px;top:616px;width:51px;height:20px">256</div><div class="cell lb" style="left:402px;top:616px;width:39px;height:20px">878</div><div class="cell lb" style="left:441px;top:616px;width:45px;height:20px">547</div><div class="cell lb" style="left:486px;top:616px;width:45px;height:20px">800</div><div class="cell lb" style="left:531px;top:616px;width:46px;height:20px">276</div><div class="cell lb" style="left:577px;top:616px;width:44px;height:20px">87</div><div class="cell lb" style="left:621px;top:616px;width:57px;height:20px">87</div><div class="cell wh" style="left:14px;top:636px;width:78px;height:20px">WG508</div><div class="cell wh" style="left:92px;top:636px;width:45px;height:20px">120</div><div class="cell wh" style="left:137px;top:636px;width:45px;height:20px">190</div><div class="cell wh" style="left:182px;top:636px;width:78px;height:20px">F35/F40</div><div class="cell wh" style="left:260px;top:636px;width:46px;height:20px">475</div><div class="cell wh" style="left:306px;top:636px;width:45px;height:20px">245</div><div class="cell wh" style="left:351px;top:636px;width:51px;height:20px">356/406</div><div class="cell wh" style="left:402px;top:636px;width:39px;height:20px">929</div><div class="cell wh" style="left:441px;top:636px;width:45px;height:20px">635</div><div class="cell wh" style="left:486px;top:636px;width:45px;height:20px">750</div><div class="cell wh" style="left:531px;top:636px;width:46px;height:20px">360</div><div class="cell wh" style="left:577px;top:636px;width:44px;height:20px">107</div><div class="cell wh" style="left:621px;top:636px;width:57px;height:20px">109</div><div class="cell lb" style="left:14px;top:656px;width:78px;height:20px">WG558</div><div class="cell lb" style="left:92px;top:656px;width:45px;height:20px">140</div><div class="cell lb" style="left:137px;top:656px;width:45px;height:20px">200</div><div class="cell lb" style="left:182px;top:656px;width:78px;height:20px">F35/F40</div><div class="cell lb" style="left:260px;top:656px;width:46px;height:20px">475</div><div class="cell lb" style="left:306px;top:656px;width:45px;height:20px">265</div><div class="cell lb" style="left:351px;top:656px;width:51px;height:20px">356/406</div><div class="cell lb" style="left:402px;top:656px;width:39px;height:20px">860</div><div class="cell lb" style="left:441px;top:656px;width:45px;height:20px">680</div><div class="cell lb" style="left:486px;top:656px;width:45px;height:20px">800</div><div class="cell lb" style="left:531px;top:656px;width:46px;height:20px">396</div><div class="cell lb" style="left:577px;top:656px;width:44px;height:20px">111</div><div class="cell lb" style="left:621px;top:656px;width:57px;height:20px">109</div><div class="cell wh" style="left:14px;top:676px;width:78px;height:20px">WG608</div><div class="cell wh" style="left:92px;top:676px;width:45px;height:20px">140</div><div class="cell wh" style="left:137px;top:676px;width:45px;height:20px">210</div><div class="cell wh" style="left:182px;top:676px;width:78px;height:20px">F40</div><div class="cell wh" style="left:260px;top:676px;width:46px;height:20px">475</div><div class="cell wh" style="left:306px;top:676px;width:45px;height:20px">270</div><div class="cell wh" style="left:351px;top:676px;width:51px;height:20px">406</div><div class="cell wh" style="left:402px;top:676px;width:39px;height:20px">970</div><div class="cell wh" style="left:441px;top:676px;width:45px;height:20px">740</div><div class="cell wh" style="left:486px;top:676px;width:45px;height:20px">800</div><div class="cell wh" style="left:531px;top:676px;width:46px;height:20px">415</div><div class="cell wh" style="left:577px;top:676px;width:44px;height:20px">118</div><div class="cell wh" style="left:621px;top:676px;width:57px;height:20px">113</div>
<div class="hl" style="left:236px;top:348.5px;width:442px"></div><div class="hl2" style="left:14px;top:348.5px;width:222px"></div><div class="hl" style="left:236px;top:373.5px;width:442px"></div><div class="hl2" style="left:14px;top:373.5px;width:222px"></div><div class="hl" style="left:236px;top:398.0px;width:442px"></div><div class="hl2" style="left:14px;top:398.0px;width:222px"></div><div class="hl" style="left:236px;top:422.5px;width:442px"></div><div class="hl2" style="left:14px;top:422.5px;width:222px"></div><div class="hl" style="left:236px;top:447.5px;width:442px"></div><div class="hl2" style="left:14px;top:447.5px;width:222px"></div><div class="vl" style="left:296.5px;top:325px;height:148px"></div><div class="vl" style="left:358.5px;top:325px;height:148px"></div><div class="vl" style="left:419.5px;top:325px;height:148px"></div><div class="vl" style="left:481.5px;top:325px;height:148px"></div><div class="vl" style="left:542.5px;top:325px;height:148px"></div><div class="vl" style="left:604.5px;top:325px;height:148px"></div><div class="hl" style="left:14px;top:575.5px;width:664px"></div><div class="hl" style="left:14px;top:595.5px;width:664px"></div><div class="hl" style="left:14px;top:615.5px;width:664px"></div><div class="hl" style="left:14px;top:635.5px;width:664px"></div><div class="hl" style="left:14px;top:655.5px;width:664px"></div><div class="hl" style="left:14px;top:675.5px;width:664px"></div><div class="vl" style="left:91.5px;top:556px;height:140px"></div><div class="vl2" style="left:91.5px;top:536px;height:20px"></div><div class="vl" style="left:136.5px;top:556px;height:140px"></div><div class="vl2" style="left:136.5px;top:536px;height:20px"></div><div class="vl" style="left:181.5px;top:556px;height:140px"></div><div class="vl2" style="left:181.5px;top:536px;height:20px"></div><div class="vl" style="left:259.5px;top:556px;height:140px"></div><div class="vl2" style="left:259.5px;top:536px;height:20px"></div><div class="vl" style="left:305.5px;top:556px;height:140px"></div><div class="vl2" style="left:305.5px;top:536px;height:20px"></div><div class="vl" style="left:350.5px;top:556px;height:140px"></div><div class="vl2" style="left:350.5px;top:536px;height:20px"></div><div class="vl" style="left:401.5px;top:556px;height:140px"></div><div class="vl2" style="left:401.5px;top:536px;height:20px"></div><div class="vl" style="left:440.5px;top:556px;height:140px"></div><div class="vl2" style="left:440.5px;top:536px;height:20px"></div><div class="vl" style="left:485.5px;top:556px;height:140px"></div><div class="vl2" style="left:485.5px;top:536px;height:20px"></div><div class="vl" style="left:530.5px;top:556px;height:140px"></div><div class="vl2" style="left:530.5px;top:536px;height:20px"></div><div class="vl" style="left:576.5px;top:556px;height:140px"></div><div class="vl2" style="left:576.5px;top:536px;height:20px"></div><div class="vl" style="left:620.5px;top:556px;height:140px"></div><div class="vl2" style="left:620.5px;top:536px;height:20px"></div>
<div class="frame" style="left:13px;top:324px;width:664px;height:148px"></div><div class="dframe" style="left:13px;top:324px;width:222px;height:148px"></div>
<div class="title" style="top:506px">WG<span class="c">系列多级传动阀门减速器尺寸表</span> <span class="e" style="margin-left:1.5px;letter-spacing:0.34px">Dimension table of WG series multi-stage speed gear operator</span></div>
<div class="frame" style="left:13px;top:535px;width:664px;height:160px"></div>
</body></html>
